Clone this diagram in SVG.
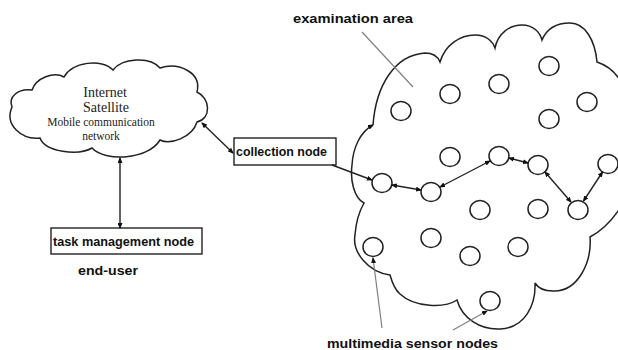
<svg xmlns="http://www.w3.org/2000/svg" width="618" height="350" viewBox="0 0 618 350">
<style>
.cloud{fill:none;stroke:#222;stroke-width:1.5;stroke-linejoin:miter}
.node{fill:#fff;stroke:#222;stroke-width:1.5}
.box{fill:#fff;stroke:#111;stroke-width:1.3}
.lbl{font-family:"Liberation Sans",Arial,sans-serif;font-weight:bold;fill:#111}
.ser{font-family:"Liberation Serif","Times New Roman",serif;fill:#222;text-anchor:middle}
.conn{fill:none;stroke:#222;stroke-width:1.4}
.lead{fill:none;stroke:#808080;stroke-width:1.2}
</style>
<defs>
<marker id="ah" markerUnits="userSpaceOnUse" markerWidth="6" markerHeight="5" refX="5" refY="2.5" orient="auto-start-reverse">
<path d="M0,0 L6,2.5 L0,5 Z" fill="#111"/>
</marker>
</defs>
<rect width="618" height="350" fill="#fff"/>

<g id="network-cloud">
<path class="cloud" d="M12,107 C8,97 18,88 32,90 C36,78 54,71 64,77 C72,62 102,58 113,70 C122,58 150,56 160,68 C178,62 202,72 197,92 C210,98 212,118 197,122 C192,138 170,145 160,140 C148,160 105,162 92,148 C78,156 45,152 40,138 C22,140 4,125 12,107 Z"/>
<text class="ser" x="105" y="97" font-size="14">Internet</text>
<text class="ser" x="106" y="112" font-size="14">Satellite</text>
<text class="ser" x="101" y="126" font-size="11.5">Mobile communication</text>
<text class="ser" x="101" y="140" font-size="11.5">network</text>
</g>

<g id="examination-area">
<path class="cloud" marker-end="url(#ah)" d="M373,125 C376,85 395,55 425,53 C433,53 438,57 440,62 C445,45 460,35 475,35 C487,35 493,42 495,48 C498,33 510,25 522,25 C533,25 540,32 542,40 C547,28 558,23 570,23 C585,23 595,40 597,62 C615,68 628,85 628,110 L628,185 C628,200 612,225 590,237 C592,262 578,292 553,291 C545,291 538,288 535,283 C536,305 525,328 500,329 C480,330 462,318 457,300 C445,308 415,308 400,294 C395,290 392,282 390,275 C368,272 352,252 355,235 C356,222 360,210 364,203 C354,198 350,180 352,165 C353,148 360,132 373,125"/>
<text class="lbl" x="293" y="23" font-size="13.5" textLength="120" lengthAdjust="spacingAndGlyphs">examination area</text>
</g>

<g id="sensor-nodes">
<ellipse class="node" cx="401" cy="111" rx="10" ry="9.5"/>
<ellipse class="node" cx="450" cy="94" rx="10" ry="9.5"/>
<ellipse class="node" cx="499" cy="84" rx="10" ry="9.5"/>
<ellipse class="node" cx="549" cy="66" rx="10" ry="9.5"/>
<ellipse class="node" cx="587" cy="102" rx="10" ry="9.5"/>
<ellipse class="node" cx="549" cy="119" rx="10" ry="9.5"/>
<ellipse class="node" cx="450" cy="157" rx="10" ry="9.5"/>
<ellipse class="node" cx="499" cy="156" rx="10" ry="9.5"/>
<ellipse class="node" cx="538" cy="165" rx="10" ry="9.5"/>
<ellipse class="node" cx="608" cy="164" rx="10" ry="9.5"/>
<ellipse class="node" cx="382" cy="183" rx="10" ry="9.5"/>
<ellipse class="node" cx="431" cy="192" rx="10" ry="9.5"/>
<ellipse class="node" cx="480" cy="210" rx="10" ry="9.5"/>
<ellipse class="node" cx="538" cy="209" rx="10" ry="9.5"/>
<ellipse class="node" cx="578" cy="210" rx="10" ry="9.5"/>
<ellipse class="node" cx="431" cy="238" rx="10" ry="9.5"/>
<ellipse class="node" cx="373" cy="247" rx="10" ry="9.5"/>
<ellipse class="node" cx="470" cy="256" rx="10" ry="9.5"/>
<ellipse class="node" cx="518" cy="247" rx="10" ry="9.5"/>
<ellipse class="node" cx="490" cy="301" rx="10" ry="9.5"/>
</g>

<g id="collection-node">
<rect class="box" x="234" y="138" width="102" height="27"/>
<text class="lbl" x="236" y="156" font-size="12.5" textLength="91" lengthAdjust="spacingAndGlyphs">collection node</text>
</g>

<g id="task-management-node">
<rect class="box" x="51" y="228" width="151" height="26"/>
<text class="lbl" x="53" y="246" font-size="12.5" textLength="141" lengthAdjust="spacingAndGlyphs">task management node</text>
</g>

<g id="end-user">
<text class="lbl" x="78" y="275" font-size="13.5" textLength="60" lengthAdjust="spacingAndGlyphs">end-user</text>
</g>

<g id="multimedia-label">
<text class="lbl" x="327" y="348" font-size="13.5" textLength="171" lengthAdjust="spacingAndGlyphs">multimedia sensor nodes</text>
</g>

<g id="connectors">
<line class="conn" x1="120" y1="158" x2="120" y2="228" marker-start="url(#ah)" marker-end="url(#ah)"/>
<line class="conn" x1="202" y1="123" x2="233" y2="153" marker-start="url(#ah)" marker-end="url(#ah)"/>
<line class="conn" x1="332" y1="165" x2="372" y2="180" marker-end="url(#ah)"/>
<line class="conn" x1="392" y1="185" x2="421" y2="190" marker-start="url(#ah)" marker-end="url(#ah)"/>
<line class="conn" x1="440" y1="187" x2="490" y2="161" marker-start="url(#ah)" marker-end="url(#ah)"/>
<line class="conn" x1="509" y1="158" x2="528" y2="163" marker-start="url(#ah)" marker-end="url(#ah)"/>
<line class="conn" x1="545" y1="172" x2="571" y2="202" marker-start="url(#ah)" marker-end="url(#ah)"/>
<line class="conn" x1="583.5" y1="201" x2="602.5" y2="172" marker-start="url(#ah)" marker-end="url(#ah)"/>
<line class="lead" x1="362" y1="32" x2="413" y2="87"/>
<line class="lead" x1="382" y1="328" x2="373" y2="258" marker-end="url(#ah)"/>
<line class="lead" x1="453" y1="330" x2="487" y2="311" marker-end="url(#ah)"/>
</g>
</svg>
